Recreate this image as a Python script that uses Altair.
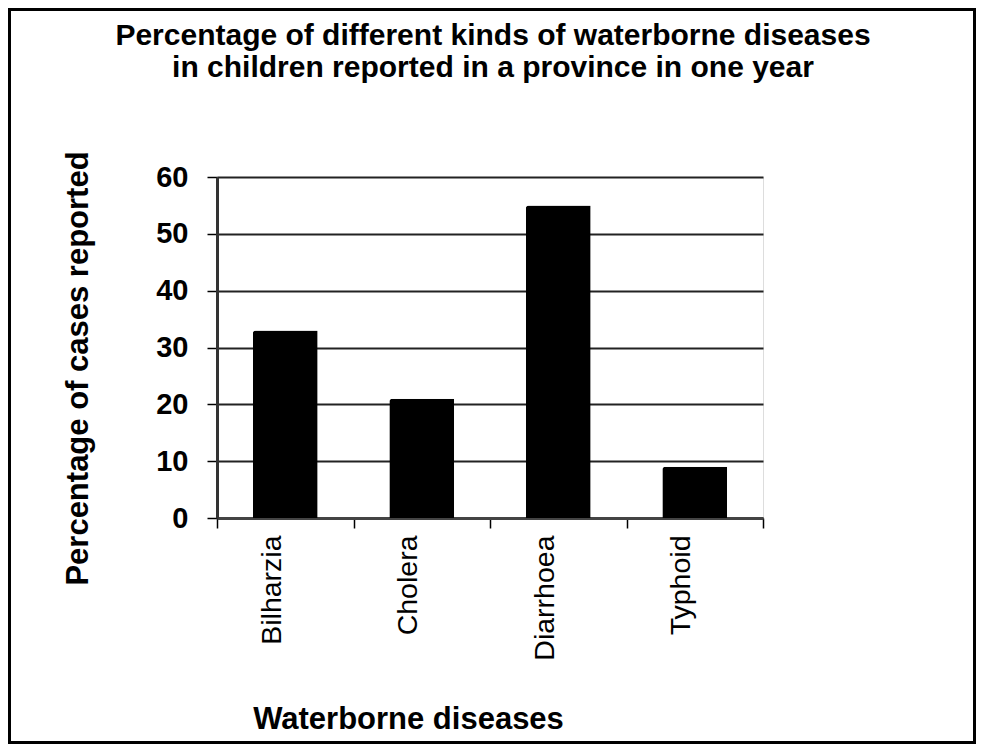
import altair as alt
import pandas as pd

categories = ["Bilharzia", "Cholera", "Diarrhoea", "Typhoid"]
values = [33, 21, 55, 9]
y_ticks = [0, 10, 20, 30, 40, 50, 60]

title_lines = [
    "Percentage of different kinds of waterborne diseases",
    "in children reported in a province in one year",
]
x_title = "Waterborne diseases"
y_title = "Percentage of cases reported"

df = pd.DataFrame({"disease": categories, "pct": values})

FONT = "Liberation Sans"
W, H = 546, 341
PAD = {"left": 209, "top": 169, "right": 213, "bottom": 226}

bars = alt.Chart(df).mark_bar(
    color="black",
    width=alt.RelativeBandSize(0.475),
    cornerRadiusTopLeft=3,
).encode(
    x=alt.X(
        "disease:N",
        sort=categories,
        scale=alt.Scale(paddingInner=0, paddingOuter=0),
        title=x_title,
        axis=alt.Axis(
            tickBand="extent",
            tickSize=10,
            tickColor="black",
            tickWidth=1.5,
            domainColor="#444444",
            domainWidth=3,
            labelAngle=270,
            labelAlign="right",
            labelBaseline="alphabetic",
            labelPadding=7,
            labelOffset=-5,
            labelFont=FONT,
            labelFontSize=28.5,
            labelColor="black",
            titleFont=FONT,
            titleFontSize=31,
            titleFontWeight="bold",
            titleColor="black",
            titleX=191,
            titleY=210,
            titleAlign="center",
            titleBaseline="alphabetic",
            grid=False,
        ),
    ),
    y=alt.Y(
        "pct:Q",
        scale=alt.Scale(domain=[0, 60], nice=False),
        title=y_title,
        axis=alt.Axis(
            values=y_ticks,
            tickSize=10,
            tickColor="black",
            tickWidth=1.5,
            domainColor="#333333",
            domainWidth=3,
            labelPadding=19,
            labelFont=FONT,
            labelFontSize=29,
            labelFontWeight="bold",
            labelColor="black",
            titleFont=FONT,
            titleFontSize=31,
            titleFontWeight="bold",
            titleColor="black",
            titleAngle=270,
            titleX=-139,
            titleY=191,
            titleAlign="center",
            titleBaseline="middle",
            grid=True,
            gridColor="#222222",
            gridWidth=2,
        ),
    ),
)

border = alt.Chart(alt.Data(values=[{"b": 1}])).mark_rect(
    filled=False, stroke="black", strokeWidth=3
).encode(
    x=alt.value(-PAD["left"] + 1.5),
    x2=alt.value(W + PAD["right"] - 1.5),
    y=alt.value(-PAD["top"] + 1.5),
    y2=alt.value(H + PAD["bottom"] - 1.5),
)

title = alt.Chart(alt.Data(values=[{"b": 1}])).mark_text(
    text=title_lines,
    font=FONT,
    fontSize=30,
    fontWeight="bold",
    color="black",
    align="center",
    baseline="alphabetic",
    lineHeight=32,
).encode(
    x=alt.value(W / 2 + 3),
    y=alt.value(-132),
)

chart = alt.layer(bars, border, title).properties(
    width=W,
    height=H,
    autosize=alt.AutoSizeParams(type="none"),
    padding=PAD,
).configure_view(stroke="#c8c8c8", strokeWidth=1).configure(background="white")

chart.save("out.html", embed_options={"renderer": "svg", "actions": False})
